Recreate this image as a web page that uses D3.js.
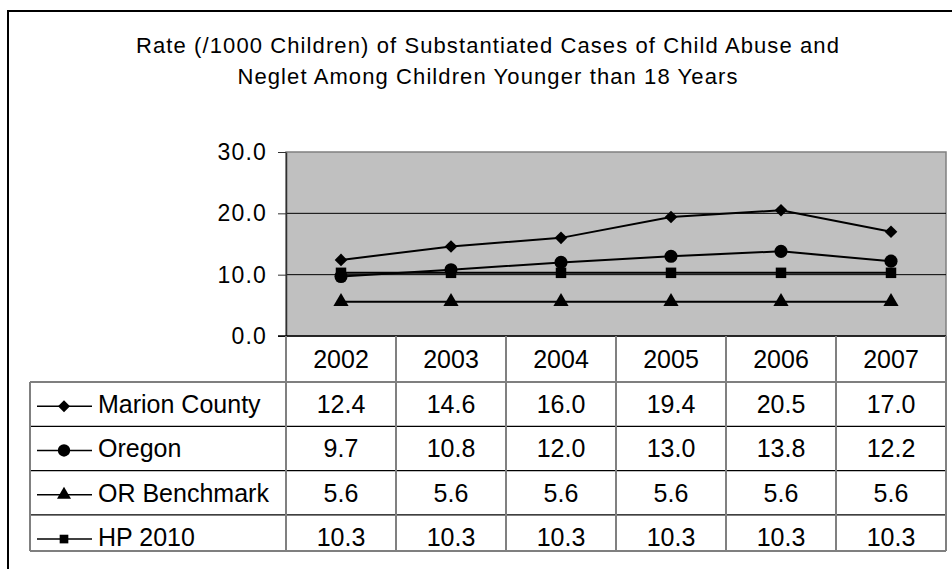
<!DOCTYPE html>
<html>
<head>
<meta charset="utf-8">
<script src="https://cdn.jsdelivr.net/npm/d3@7"></script>
<style>
  html, body { margin: 0; padding: 0; background: #fff; }
  svg { display: block; font-family: "Liberation Sans", Arial, sans-serif; }
</style>
</head>
<body>
<svg id="chart" width="952" height="569"></svg>
<script>
const titleLines = ["Rate (/1000 Children) of Substantiated Cases of Child Abuse and",
                    "Neglet Among Children Younger than 18 Years"];
const years = ["2002", "2003", "2004", "2005", "2006", "2007"];
const seriesNames = ["Marion County", "Oregon", "OR Benchmark", "HP 2010"];
const marion = [12.4, 14.6, 16.0, 19.4, 20.5, 17.0];
const oregon = [9.7, 10.8, 12.0, 13.0, 13.8, 12.2];
const benchmark = [5.6, 5.6, 5.6, 5.6, 5.6, 5.6];
const hp2010 = [10.3, 10.3, 10.3, 10.3, 10.3, 10.3];
const yTicks = [0, 10, 20, 30];

const seriesValues = [marion, oregon, benchmark, hp2010];
const seriesSymbols = ["diamond", "circle", "triangle", "square"];

const svg = d3.select("#chart");

// layout
const plotL = 286, plotR = 946, plotT = 152, plotB = 336;
const tableL = 30;
const rowH = 44.3;
const headerB = 382;
const tableB = 551;

const x = d3.scaleBand().domain(years).range([plotL, plotR]);
const y = d3.scaleLinear().domain([0, 30]).range([plotB, plotT]);

// outer frame (extends past canvas)
svg.append("rect").attr("x", 8).attr("y", 11).attr("width", 1000).attr("height", 600)
  .attr("fill", "none").attr("stroke", "#000").attr("stroke-width", 2);

// title
svg.append("g").selectAll("text").data(titleLines).join("text")
  .attr("x", 488).attr("y", (d, i) => 53 + i * 30.5)
  .attr("text-anchor", "middle")
  .attr("font-size", 22).attr("letter-spacing", 1.1)
  .attr("fill", "#000")
  .text(d => d);

// plot background
svg.append("rect").attr("x", plotL).attr("y", plotT)
  .attr("width", plotR - plotL).attr("height", plotB - plotT)
  .attr("fill", "#c0c0c0").attr("stroke", "#808080").attr("stroke-width", 1.5);

// gridlines
svg.append("g").selectAll("line").data(yTicks.filter(t => t > 0 && t < 30)).join("line")
  .attr("x1", plotL).attr("x2", plotR)
  .attr("y1", d => y(d)).attr("y2", d => y(d))
  .attr("stroke", "#000").attr("stroke-width", 1);

// y axis
const yAxis = d3.axisLeft(y).tickValues(yTicks).tickFormat(d3.format(".1f"))
  .tickSize(8).tickSizeOuter(0).tickPadding(12);
const gy = svg.append("g").attr("transform", `translate(${plotL},0)`).call(yAxis);
gy.select(".domain").attr("stroke", "#303030").attr("stroke-width", 1.5);
gy.selectAll(".tick line").attr("stroke", "#303030").attr("stroke-width", 1);
gy.selectAll(".tick text").attr("font-size", 23).attr("letter-spacing", 1.2)
  .attr("font-family", "'Liberation Sans', Arial, sans-serif").attr("fill", "#000")
  .attr("dx", 1);

// bottom axis line
svg.append("line").attr("x1", plotL - 8).attr("x2", plotR)
  .attr("y1", plotB).attr("y2", plotB).attr("stroke", "#000").attr("stroke-width", 1.5);

// table lines
const rowLines = [headerB, headerB + rowH, headerB + 2 * rowH, headerB + 3 * rowH, tableB];
svg.append("g").selectAll("line").data(rowLines).join("line")
  .attr("x1", tableL).attr("x2", plotR)
  .attr("y1", d => d).attr("y2", d => d)
  .attr("stroke", "#000").attr("stroke-width", 1.2);

const colEdges = years.map(d => x(d)).concat([plotR]);
svg.append("g").selectAll("line").data(colEdges).join("line")
  .attr("x1", d => d).attr("x2", d => d)
  .attr("y1", plotB).attr("y2", tableB)
  .attr("stroke", "#808080").attr("stroke-width", 2);
svg.append("line").attr("x1", tableL).attr("x2", tableL)
  .attr("y1", headerB).attr("y2", tableB)
  .attr("stroke", "#808080").attr("stroke-width", 2);

// header years
svg.append("g").selectAll("text").data(years).join("text")
  .attr("x", d => x(d) + x.bandwidth() / 2)
  .attr("y", (plotB + headerB) / 2 + 9)
  .attr("text-anchor", "middle").attr("font-size", 25).attr("fill", "#000")
  .text(d => d);

// symbol generator
const diamondType = {
  draw(ctx, size) {
    const r = Math.sqrt(size / 2);
    ctx.moveTo(0, -r); ctx.lineTo(r, 0); ctx.lineTo(0, r); ctx.lineTo(-r, 0); ctx.closePath();
  }
};
function symbolPath(type, size) {
  const t = { diamond: diamondType, circle: d3.symbolCircle,
              triangle: d3.symbolTriangle, square: d3.symbolSquare }[type];
  return d3.symbol().type(t).size(size)();
}
const symSize = { diamond: 80, circle: 135, triangle: 100, square: 110 };
const legSize = { diamond: 72, circle: 120, triangle: 85, square: 75 };

// series lines
const line = d3.line().x((d, i) => x(years[i]) + x.bandwidth() / 2).y(d => y(d));
svg.append("g").selectAll("path").data(seriesValues).join("path")
  .attr("d", d => line(d)).attr("fill", "none")
  .attr("stroke", "#000").attr("stroke-width", 2);

// markers
seriesValues.forEach((vals, si) => {
  svg.append("g").selectAll("path").data(vals).join("path")
    .attr("transform", (d, i) => `translate(${x(years[i]) + x.bandwidth() / 2},${y(d)})`)
    .attr("d", symbolPath(seriesSymbols[si], symSize[seriesSymbols[si]]))
    .attr("fill", "#000");
});

// table rows
seriesNames.forEach((name, si) => {
  const cy = headerB + rowH * si + rowH / 2;
  const g = svg.append("g");
  g.append("line").attr("x1", 37).attr("x2", 92).attr("y1", cy + 2).attr("y2", cy + 2)
    .attr("stroke", "#000").attr("stroke-width", 1.5);
  g.append("path").attr("transform", `translate(64,${cy + 2})`)
    .attr("d", symbolPath(seriesSymbols[si], legSize[seriesSymbols[si]])).attr("fill", "#000");
  g.append("text").attr("x", 98).attr("y", cy + 9)
    .attr("font-size", 25).attr("fill", "#000").text(name);
  g.selectAll("text.v").data(seriesValues[si]).join("text").attr("class", "v")
    .attr("x", (d, i) => x(years[i]) + x.bandwidth() / 2)
    .attr("y", cy + 9)
    .attr("text-anchor", "middle").attr("font-size", 25).attr("fill", "#000")
    .text(d => d3.format(".1f")(d));
});
</script>
</body>
</html>
